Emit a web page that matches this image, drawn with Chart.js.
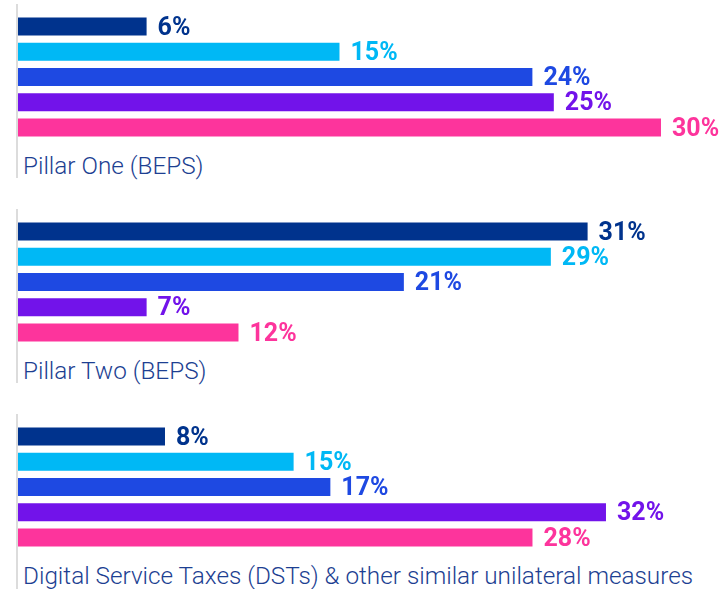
<!DOCTYPE html>
<html>
<head>
<meta charset="utf-8">
<script src="https://cdn.jsdelivr.net/npm/chart.js@4/dist/chart.umd.min.js"></script>
<style>
  html, body { margin: 0; padding: 0; background: #fff; }
  #wrap { position: relative; width: 721px; height: 589px; overflow: hidden; }
  .vline { position: absolute; left: 16px; width: 2px; background: #dcdcdc; }
  .glabel { position: absolute; left: 23px; font-family: Roboto, "Liberation Sans", Arial, sans-serif;
            font-weight: 300; font-size: 24.3px; color: #1d3f92; white-space: nowrap; line-height: 1; }
</style>
</head>
<body>
<div id="wrap">
  <div class="vline" style="top:4px;height:174px"></div>
  <div class="vline" style="top:209px;height:174px"></div>
  <div class="vline" style="top:414px;height:175px"></div>
  <canvas id="g1" width="721" height="126" style="position:absolute;left:0;top:14px"></canvas>
  <canvas id="g2" width="721" height="126" style="position:absolute;left:0;top:219px"></canvas>
  <canvas id="g3" width="721" height="126" style="position:absolute;left:0;top:424px"></canvas>
  <div class="glabel" style="top:154px">Pillar One (BEPS)</div>
  <div class="glabel" style="top:359px">Pillar Two (BEPS)</div>
  <div class="glabel" style="top:564px">Digital Service Taxes (DSTs) &amp; other similar unilateral measures</div>
</div>
<script>
// --- DADOS ---
const grupos = ['Pillar One (BEPS)', 'Pillar Two (BEPS)', 'Digital Service Taxes (DSTs) & other similar unilateral measures'];
const series = ['S1', 'S2', 'S3', 'S4', 'S5'];
const pillarOne = [6, 15, 24, 25, 30];
const pillarTwo = [31, 29, 21, 7, 12];
const dsts = [8, 15, 17, 32, 28];
const cores = ['#00338D', '#00B8F5', '#1E49E2', '#7213EA', '#FD349C'];
// o original usa escalas diferentes no primeiro bloco
const escalaMax = [32.8, 38.26, 38.26];

// rótulos de valor no fim das barras
const valueLabels = {
    id: 'valueLabels',
    afterDatasetsDraw(chart) {
        const ctx = chart.ctx;
        const meta = chart.getDatasetMeta(0);
        const ds = chart.data.datasets[0];
        ctx.save();
        ctx.font = 'bold 25px Roboto, "Liberation Sans", Arial, sans-serif';
        ctx.textBaseline = 'middle';
        ctx.textAlign = 'left';
        meta.data.forEach((bar, i) => {
            ctx.fillStyle = ds.backgroundColor[i];
            ctx.fillText(ds.data[i] + '%', bar.x + 11, bar.y + 2);
        });
        ctx.restore();
    }
};

function renderGrupo(id, valores, max) {
    const ctx = document.getElementById(id).getContext('2d');
    new Chart(ctx, {
        type: 'bar',
        data: {
            labels: series,
            datasets: [{
                data: valores,
                backgroundColor: cores,
                categoryPercentage: 1,
                barPercentage: 0.713
            }]
        },
        options: {
            indexAxis: 'y',
            responsive: false,
            animation: false,
            layout: { padding: { left: 18, right: 0, top: 0, bottom: 0 } },
            plugins: { legend: { display: false }, tooltip: { enabled: false } },
            scales: {
                x: { display: false, min: 0, max: max },
                y: { display: false }
            }
        },
        plugins: [valueLabels]
    });
}

renderGrupo('g1', pillarOne, escalaMax[0]);
renderGrupo('g2', pillarTwo, escalaMax[1]);
renderGrupo('g3', dsts, escalaMax[2]);
</script>
</body>
</html>
